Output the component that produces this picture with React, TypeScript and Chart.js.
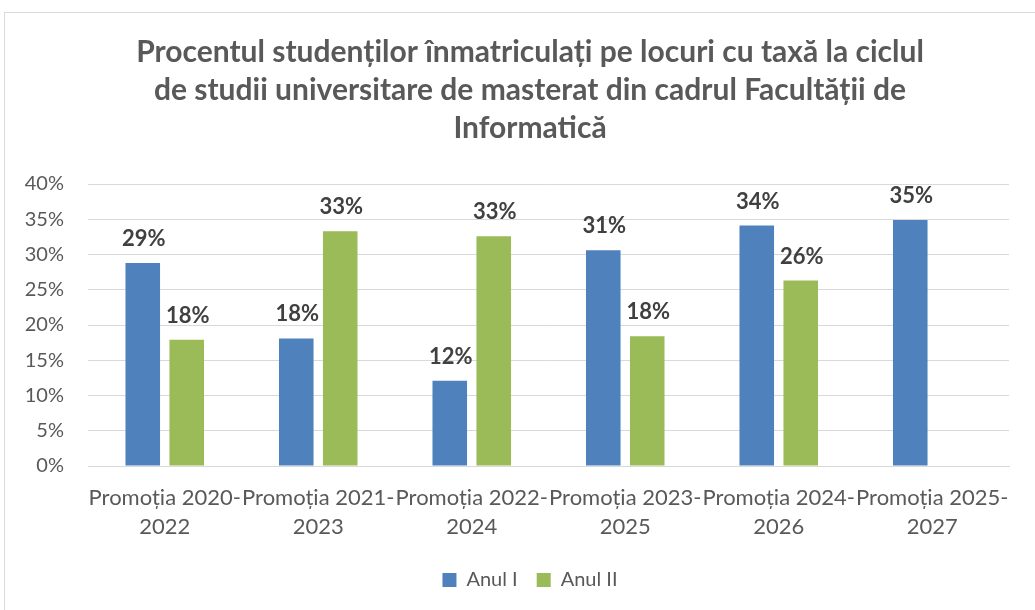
import React, { useEffect, useRef } from "react";
import { Chart, registerables } from "chart.js";

Chart.register(...registerables);

const titleLines = [
  "Procentul studenților înmatriculați pe locuri cu taxă la ciclul",
  "de studii universitare de masterat din cadrul Facultății de",
  "Informatică",
];
const categories = [
  ["Promoția 2020-", "2022"],
  ["Promoția 2021-", "2023"],
  ["Promoția 2022-", "2024"],
  ["Promoția 2023-", "2025"],
  ["Promoția 2024-", "2026"],
  ["Promoția 2025-", "2027"],
];
const anulI = [28.8, 18.1, 12.1, 30.6, 34.1, 34.9];
const anulII = [17.9, 33.3, 32.6, 18.4, 26.3, null];
const yTicks = [0, 5, 10, 15, 20, 25, 30, 35, 40];

const FONT = "Lato";

const dataLabels = {
  id: "dataLabels",
  afterDatasetsDraw(chart: any) {
    const ctx = chart.ctx;
    ctx.save();
    ctx.font = `bold 22px ${FONT}`;
    ctx.fillStyle = "#404040";
    ctx.textAlign = "center";
    ctx.textBaseline = "alphabetic";
    chart.data.datasets.forEach((ds: any, i: number) => {
      const meta = chart.getDatasetMeta(i);
      meta.data.forEach((bar: any, j: number) => {
        const v = ds.data[j];
        if (v === null || v === undefined) return;
        ctx.fillText(Math.round(v) + "%", bar.x + 1, bar.y - 17);
      });
    });
    ctx.restore();
  },
};

export default function App() {
  const ref = useRef<HTMLCanvasElement>(null);
  useEffect(() => {
    const chart = new Chart(ref.current!, {
      type: "bar",
      data: {
        labels: categories,
        datasets: [
          {
            label: "Anul I",
            data: anulI,
            backgroundColor: "#4f81bd",
            categoryPercentage: 0.573,
            barPercentage: 0.786,
            yAxisID: "y",
          },
          {
            label: "Anul II",
            data: anulII,
            backgroundColor: "#9bbb59",
            categoryPercentage: 0.573,
            barPercentage: 0.786,
            yAxisID: "y",
          },
        ],
      },
      options: {
        animation: false,
        responsive: false,
        maintainAspectRatio: false,
        layout: { padding: { top: 0, left: 0, right: 0, bottom: 10 } },
        plugins: {
          tooltip: { enabled: false },
          title: {
            display: true,
            text: titleLines,
            color: "#595959",
            font: { family: FONT, size: 30, weight: "bold", lineHeight: 38 / 30 },
            padding: { top: 20, bottom: 37 },
          },
          legend: {
            position: "bottom",
            labels: {
              color: "#595959",
              font: { family: FONT, size: 20 },
              boxWidth: 14,
              boxHeight: 14,
              padding: 19,
            },
          },
        },
        scales: {
          x: {
            grid: { display: false, drawTicks: false },
            border: { display: true, color: "#d9d9d9", width: 1 },
            ticks: {
              color: "#595959",
              font: { family: FONT, size: 22, lineHeight: 29 / 22 },
              padding: 17,
              maxRotation: 0,
              minRotation: 0,
              autoSkip: false,
            },
            afterFit: (s: any) => {
              s.height = 85;
            },
          },
          y: {
            position: "left",
            min: 0,
            max: 40,
            afterBuildTicks: (s: any) => {
              s.ticks = yTicks.map((v) => ({ value: v }));
            },
            grid: { color: "#d9d9d9", lineWidth: 1, drawTicks: false },
            border: { display: false },
            ticks: {
              color: "#595959",
              font: { family: FONT, size: 20 },
              padding: 24,
              callback: (v: any) => v + "%",
            },
            afterFit: (s: any) => {
              s.width = 83;
            },
          },
          yR: {
            position: "right",
            display: true,
            grid: { display: false, drawTicks: false },
            border: { display: false },
            ticks: { display: false },
            afterFit: (s: any) => {
              s.width = 46;
            },
          },
        },
      },
      plugins: [dataLabels],
    });
    return () => chart.destroy();
  }, []);

  return (
    <div
      style={{
        position: "fixed",
        left: 0,
        top: 0,
        width: 1035,
        height: 610,
        overflow: "hidden",
        background: "#ffffff",
      }}
    >
      <div
        style={{
          position: "absolute",
          left: 4,
          top: 12,
          width: 1050,
          height: 640,
          border: "1px solid #d9d9d9",
          boxSizing: "border-box",
        }}
      >
        <canvas
          ref={ref}
          width={1050}
          height={597}
          style={{ position: "absolute", left: 0, top: 0, width: 1050, height: 597 }}
        />
      </div>
    </div>
  );
}
